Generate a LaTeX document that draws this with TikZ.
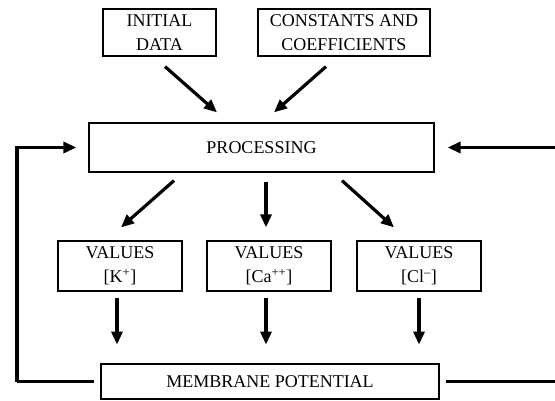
\documentclass[tikz,border=0pt]{standalone}
\usepackage{fontspec}
\setmainfont{Liberation Serif}
\usetikzlibrary{arrows.meta, positioning, calc}

\begin{document}
\begin{tikzpicture}[
    x=1pt, y=-1pt,
    box/.style={draw, line width=1.2pt, inner sep=0pt, align=center, font=\fontsize{18}{24}\selectfont},
    arr/.style={line width=3.2pt, -{Triangle[length=13pt,width=11pt]}},
    fb/.style={line width=3.2pt}
]
    \useasboundingbox (0,0) rectangle (555,401);
    % input boxes
    \node[box, minimum width=113pt, minimum height=47pt] (initdata) at (159.5,32.5) {INITIAL\\DATA};
    \node[box, minimum width=172pt, minimum height=47pt] (consts) at (344,32.5) {CONSTANTS AND\\COEFFICIENTS};
    \node[box, minimum width=345pt, minimum height=49pt] (proc) at (261.5,147.5) {PROCESSING};
    % ion values
    \node[box, minimum width=124pt, minimum height=50pt] (valK) at (120,266) {VALUES\\{[}K\textsuperscript{+}{]}};
    \node[box, minimum width=124pt, minimum height=50pt] (valCa) at (269,266) {VALUES\\{[}Ca\textsuperscript{++}{]}};
    \node[box, minimum width=124pt, minimum height=50pt] (valCl) at (419,266) {VALUES\\{[}Cl\textsuperscript{\textendash}{]}};
    \node[box, minimum width=338pt, minimum height=35pt] (memb) at (270,381.5) {MEMBRANE POTENTIAL};

    \draw[arr] ($(initdata.south)+(5.5,10)$) -- ($(proc.north)+(-44.5,-10)$);
    \draw[arr] ($(consts.south)+(-18,10)$) -- ($(proc.north)+(12.5,-10)$);

    \draw[arr] ($(proc.south)+(-87.5,8)$) -- ($(valK.north)+(1,-13)$);
    \draw[arr] ($(proc.south)+(4.5,9)$) -- ($(valCa.north)+(-3,-13)$);
    \draw[arr] ($(proc.south)+(80.5,8)$) -- ($(valCl.north)+(-25,-13)$);

    \draw[arr] ($(valK.south)+(-3,6)$) -- ($(valK.south)+(-3,53)$);
    \draw[arr] ($(valCa.south)+(-3,6)$) -- ($(valCa.south)+(-3,53)$);
    \draw[arr] ($(valCl.south)+(0,6)$) -- ($(valCl.south)+(0,53)$);

    % feedback loop
    \coordinate (fbleft) at (17,381.5);
    \coordinate (fbright) at (556,381.5);
    \coordinate (fbtop) at (556,147.5);
    \draw[fb] ($(memb.west)+(-6,0)$) -- (fbleft);
    \draw[arr] (fbleft) |- ($(proc.west)+(-12,0)$);
    \draw[fb] ($(memb.east)+(6,0)$) -- (fbright);
    \draw[arr] (fbtop) -- ($(proc.east)+(13,0)$);
\end{tikzpicture}
\end{document}
